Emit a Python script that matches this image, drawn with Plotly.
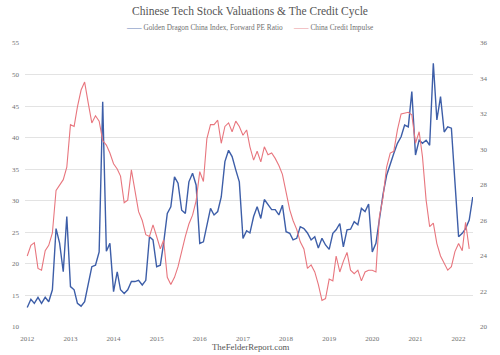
import pandas as pd
import plotly.graph_objects as go

title_text = "Chinese Tech Stock Valuations &amp; The Credit Cycle"
blue_name = "Golden Dragon China Index, Forward PE Ratio"
red_name = "China Credit Impulse"
footer_text = "TheFelderReport.com"

blue_values = [
    13.1, 14.4, 13.75, 14.7, 13.75, 14.7, 14.0, 15.9, 25.6, 23.3, 18.75, 27.5,
    16.4, 15.9, 13.75, 13.3, 14.0, 16.9, 19.55, 19.8, 21.9, 45.7, 22.0, 23.25,
    15.6, 18.75, 15.9, 15.3, 15.9, 17.2, 17.2, 17.4, 16.65, 17.4, 24.3, 23.8,
    19.55, 19.8, 23.3, 28.0, 29.05, 33.8, 32.8, 28.5, 28.0, 33.0, 34.35, 32.5,
    23.25, 23.5, 25.9, 28.8, 27.75, 28.3, 30.6, 36.2, 38.0, 37.0, 34.9, 33.0,
    24.05, 25.25, 24.9, 27.5, 29.05, 27.2, 30.2, 29.3, 28.6, 28.6, 27.75, 29.3,
    25.1, 24.85, 23.8, 24.05, 25.9, 25.6, 24.9, 23.8, 24.3, 22.5, 24.05, 23.0,
    22.3, 24.85, 25.4, 26.4, 22.7, 25.4, 25.5, 26.7, 26.2, 28.8, 28.3, 29.5,
    21.9, 23.25, 26.95, 31.0, 34.0, 35.9, 37.5, 39.1, 40.15, 42.0, 41.7, 47.3,
    37.25, 39.6, 39.1, 39.6, 38.8, 51.8, 42.8, 46.5, 40.9, 41.7, 41.5, 33.0,
    24.3, 24.85, 25.6, 26.95, 30.6,
]

red_values = [
    24.0, 24.6, 24.75, 23.3, 23.2, 24.3, 24.6, 25.3, 27.7, 28.0, 28.3, 29.0,
    31.4, 31.3, 32.4, 33.35, 33.8, 32.6, 31.5, 31.9, 31.6, 30.5, 30.25, 29.8,
    29.2, 28.9, 28.5, 27.0, 27.15, 28.85, 27.6, 26.5, 26.0, 25.2, 25.1, 25.75,
    25.1, 24.4, 24.9, 22.8, 22.4, 22.8, 23.4, 24.3, 25.1, 25.8, 26.3, 27.1,
    28.75, 28.2, 30.6, 31.4, 31.4, 31.65, 30.35, 31.3, 31.5, 31.0, 31.6, 31.3,
    30.8, 31.1, 30.15, 29.4, 29.9, 29.3, 30.15, 29.7, 29.8, 29.5, 29.1, 28.6,
    27.5, 26.6, 26.0, 25.5, 24.8, 24.4, 23.3, 23.5, 23.1, 22.4, 21.5, 21.6,
    22.7, 22.6, 24.0, 23.1, 23.7, 24.2, 23.2, 23.0, 23.2, 22.6, 23.1, 23.2,
    23.2, 23.1, 26.2, 27.3, 29.0, 29.8, 29.9, 31.1, 32.0, 32.05, 32.1, 31.95,
    30.35, 31.0, 29.6, 27.15, 25.65, 25.85, 24.7, 24.0, 23.6, 23.2, 23.4, 24.25,
    24.7, 24.3, 25.9, 24.4,
]

blue_dates = pd.date_range("2012-01-01", periods=len(blue_values), freq="MS")
red_dates = pd.date_range("2012-01-01", periods=len(red_values), freq="MS")

left_ticks = [10, 15, 20, 25, 30, 35, 40, 45, 50, 55]
right_ticks = [20, 22, 24, 26, 28, 30, 32, 34, 36]
year_ticks = [f"{y}-01-01" for y in range(2012, 2023)]
year_labels = [str(y) for y in range(2012, 2023)]

FONT = "Liberation Serif, DejaVu Serif, serif"
GRAY = "#707070"
BLUE = "#3d5ea8"
RED = "#e8767e"

fig = go.Figure()
fig.add_trace(go.Scatter(
    x=blue_dates, y=blue_values, name=blue_name, mode="lines",
    line=dict(color=BLUE, width=1.4), yaxis="y", showlegend=False,
))
fig.add_trace(go.Scatter(
    x=red_dates, y=red_values, name=red_name, mode="lines",
    line=dict(color=RED, width=1.1), yaxis="y2", showlegend=False,
))

legend_y = 1 + 15 / 284
fig.update_layout(
    width=500, height=355,
    margin=dict(l=15, r=18, t=43, b=28),
    paper_bgcolor="white", plot_bgcolor="white",
    font=dict(family=FONT, color=GRAY, size=7),
    title=dict(text=title_text, x=0.5, xanchor="center", y=1 - 11 / 355,
               yanchor="middle", font=dict(family=FONT, size=11.5, color="#555555")),
    showlegend=False,
    xaxis=dict(
        range=["2011-12-13", "2022-05-03"], tickmode="array",
        tickvals=year_ticks, ticktext=year_labels, showgrid=False,
        showline=False, zeroline=False, ticks="", ticklabelstandoff=6,
        tickfont=dict(size=7, color=GRAY),
    ),
    yaxis=dict(
        range=[10, 55], tickmode="array", tickvals=left_ticks, showgrid=True,
        gridcolor="#e3e3e3", gridwidth=1, zeroline=False, showline=False,
        ticks="", ticklabelstandoff=5, tickfont=dict(size=7, color=GRAY),
    ),
    yaxis2=dict(
        range=[20, 36], tickmode="array", tickvals=right_ticks, overlaying="y",
        side="right", showgrid=False, zeroline=False, showline=False, ticks="",
        ticklabelstandoff=6, tickfont=dict(size=7, color=GRAY),
    ),
    annotations=[
        dict(text=f'<span style="color:{BLUE}">——</span> {blue_name}',
             xref="paper", yref="paper", x=(118 - 15) / 467, y=legend_y,
             xanchor="left", yanchor="middle", showarrow=False,
             font=dict(family=FONT, size=7.3, color=GRAY)),
        dict(text=f'<span style="color:{RED}">——</span> {red_name}',
             xref="paper", yref="paper", x=(292 - 15) / 467, y=legend_y,
             xanchor="left", yanchor="middle", showarrow=False,
             font=dict(family=FONT, size=7.3, color=GRAY)),
        dict(text=footer_text, xref="paper", yref="paper", x=0.505, y=-20 / 284,
             xanchor="center", yanchor="middle", showarrow=False,
             font=dict(family=FONT, size=8.8, color="#555555")),
    ],
)

fig.write_html("out.html", config={"displayModeBar": False},
               post_script="document.body.style.margin='0';")
